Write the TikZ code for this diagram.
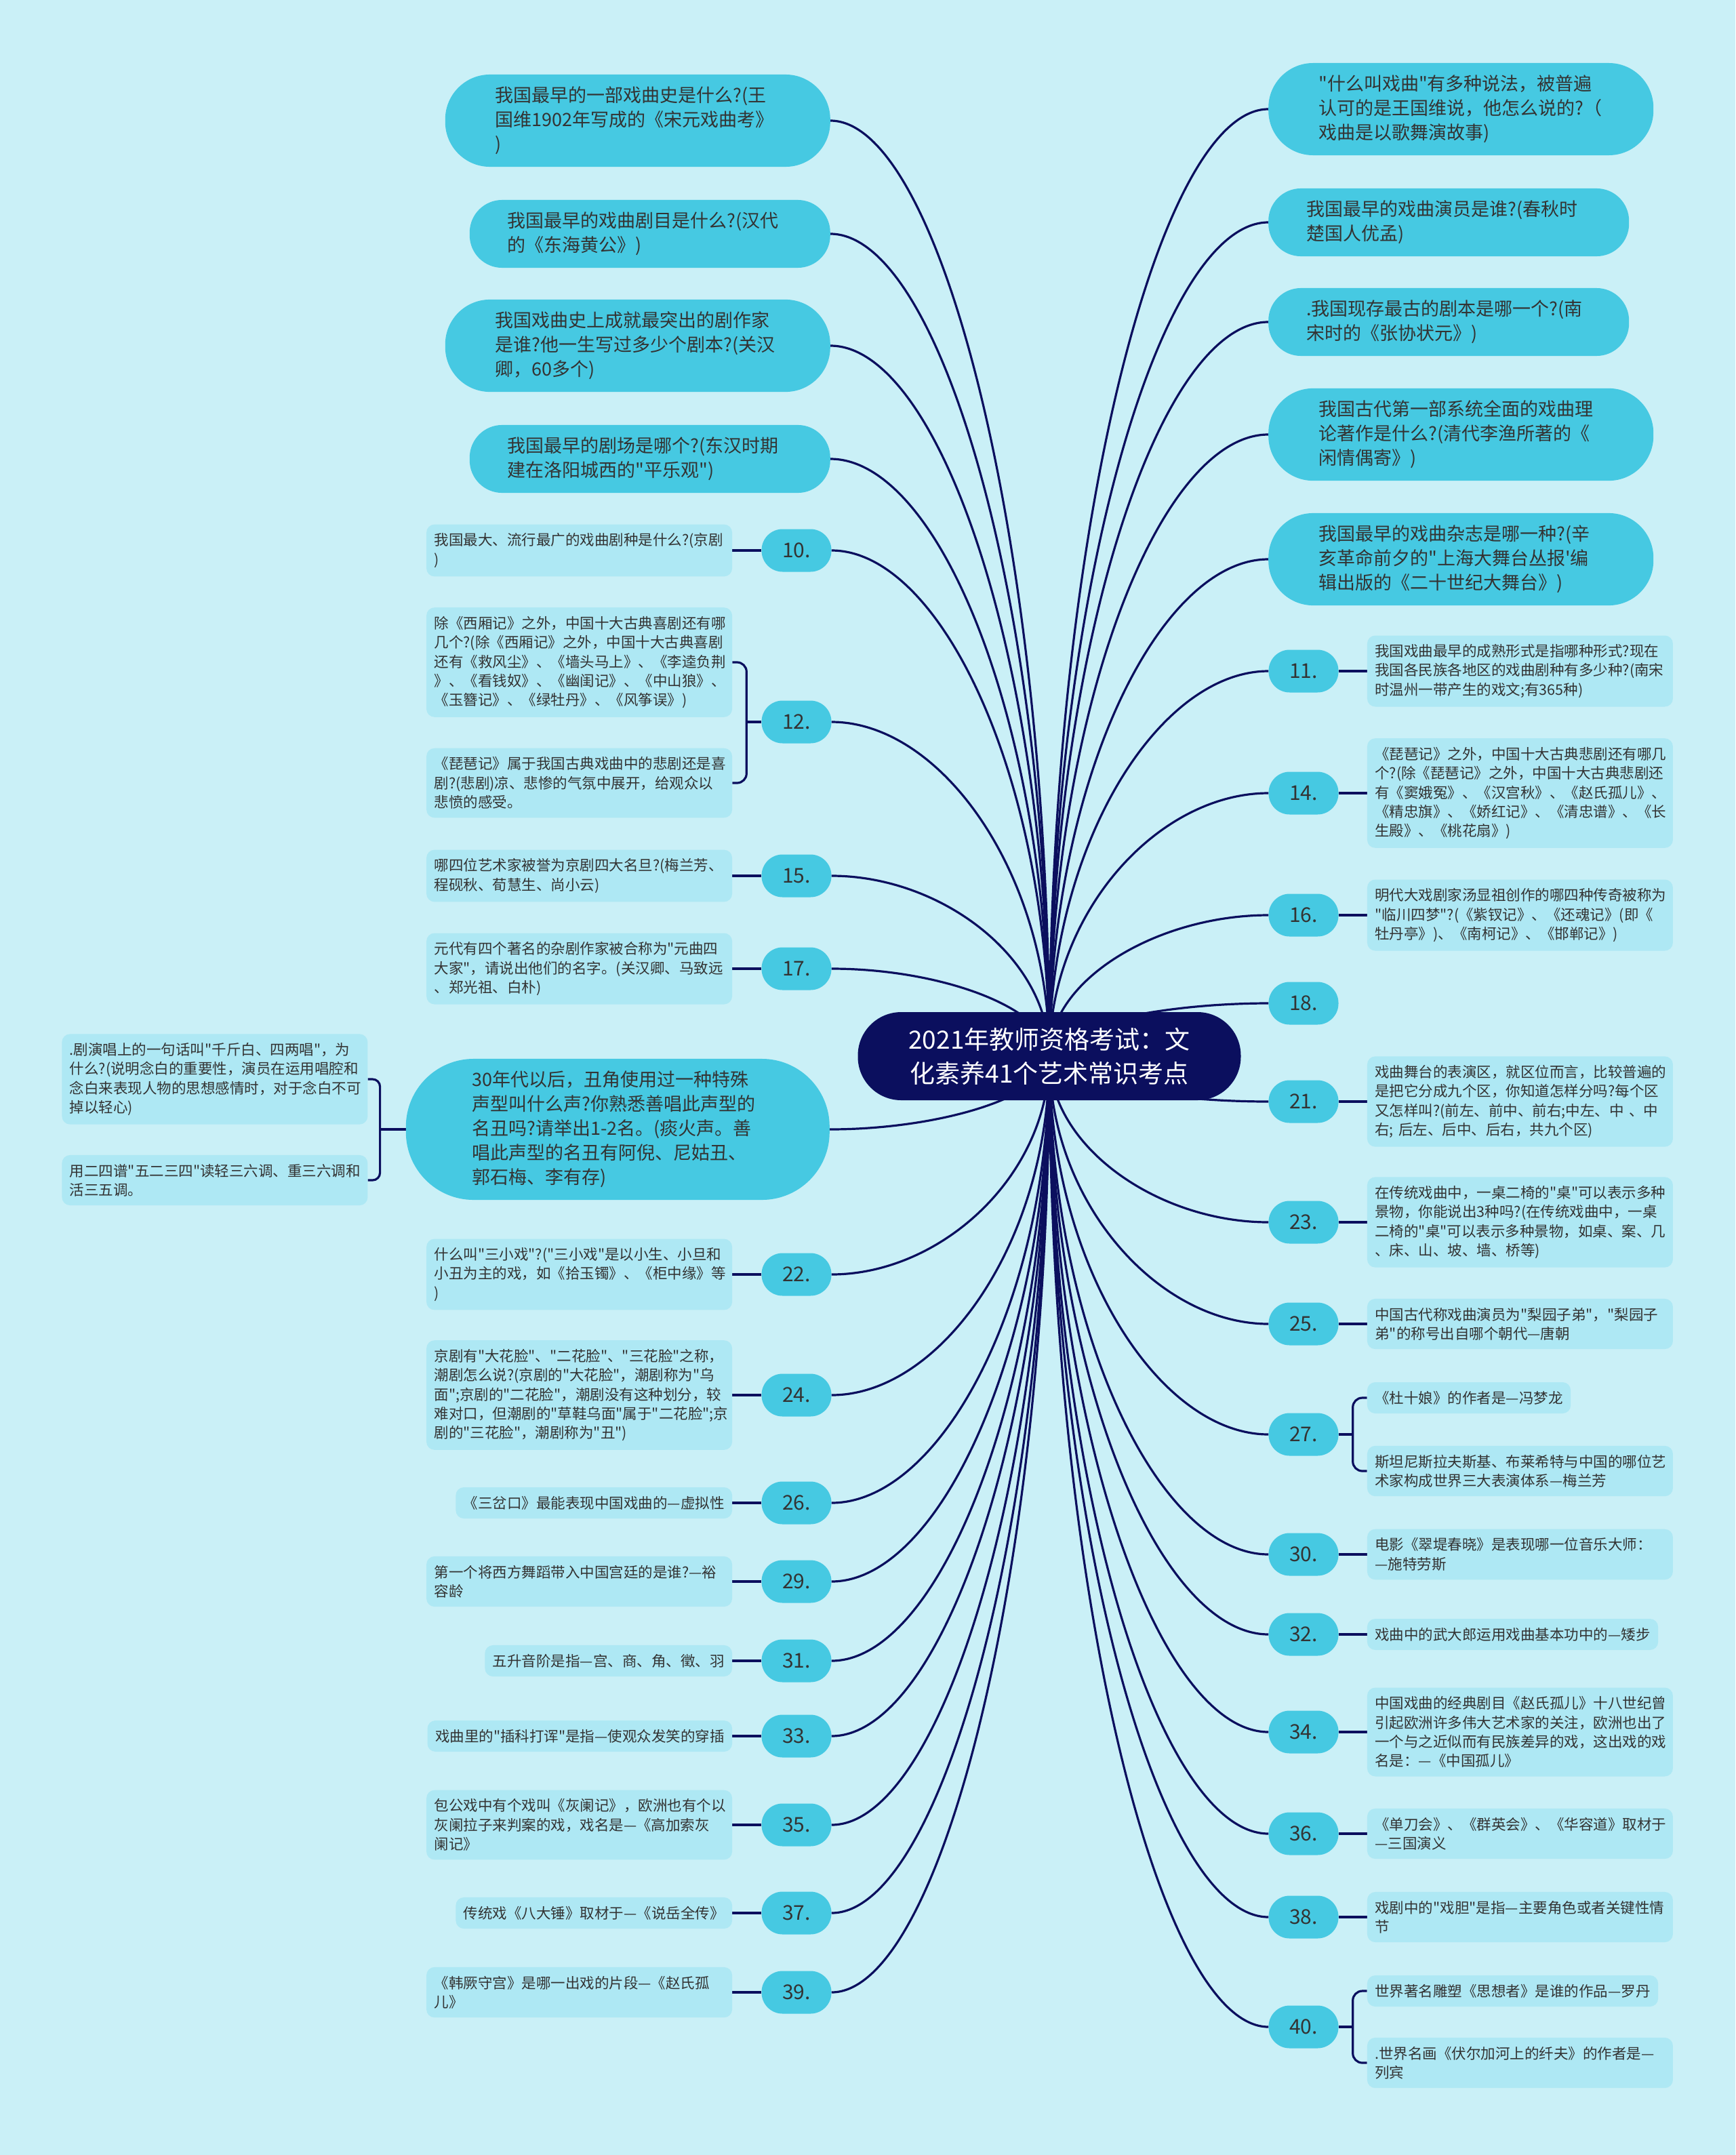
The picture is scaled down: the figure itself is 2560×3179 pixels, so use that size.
\documentclass[tikz,border=0pt]{standalone}
\usepackage{fontspec}
\setmainfont{Noto Sans CJK SC}
\newfontfamily\zhfont{Noto Sans CJK SC}
\XeTeXdashbreakstate=0
\usepackage{xcolor}
\usepackage{tikz}
\usetikzlibrary{positioning,calc}

\definecolor{bgcol}{HTML}{CAF0F7}
\definecolor{navy}{HTML}{0B0F5E}
\definecolor{topiccol}{HTML}{46C9E2}
\definecolor{notecol}{HTML}{AEE8F4}
\definecolor{inkcol}{HTML}{333333}

\pgfdeclarelayer{background}
\pgfsetlayers{background,main}

\begin{document}
\begin{tikzpicture}[x=1pt, y=-1pt,
  root/.style={rectangle, rounded corners=64pt, fill=navy, text=white, minimum width=565pt, minimum height=130pt, align=center, font=\zhfont\fontsize{37}{50}\selectfont},
  topic/.style={rectangle, rounded corners=48pt, fill=topiccol, text=inkcol, text width=420pt, align=left, inner xsep=8pt, inner ysep=18pt, minimum width=532pt, minimum height=100pt, font=\zhfont\fontsize{27}{36}\selectfont},
  tall/.style={rounded corners=66pt, minimum width=568pt},
  num/.style={rectangle, rounded corners=31pt, fill=topiccol, text=inkcol, minimum width=103pt, minimum height=63pt, font=\zhfont\fontsize{30}{30}\selectfont},
  brief/.style={rectangle, rounded corners=12pt, fill=notecol, text=inkcol, inner xsep=11.5pt, inner ysep=13pt, font=\zhfont\fontsize{21.5}{28.3}\selectfont},
  note/.style={brief, text width=428pt, align=left},
  line/.style={draw=navy, line width=3.2pt},
  branch/.style={to path={.. controls ($(\tikztostart)!0.55!(\tikztostart|-\tikztotarget)$) and ($(\tikztotarget)!0.5!(\tikztostart|-\tikztotarget)$) .. (\tikztotarget)}}]

  \useasboundingbox (0,0) rectangle (2560,3179);

  \node [root] (root) at (1548,1558) {2021年教师资格考试：文\\化素养41个艺术常识考点};

  % left topics
  \node [topic, tall, anchor=east] (lt1) at (1225,178) {我国最早的一部戏曲史是什么?(王\\国维1902年写成的《宋元戏曲考》\\)};
  \node [topic, anchor=east] (lt2) at (1225,345) {我国最早的戏曲剧目是什么?(汉代\\的《东海黄公》)};
  \node [topic, tall, anchor=east] (lt3) at (1225,510) {我国戏曲史上成就最突出的剧作家\\是谁?他一生写过多少个剧本?(关汉\\卿，60多个)};
  \node [topic, anchor=east] (lt4) at (1225,677) {我国最早的剧场是哪个?(东汉时期\\建在洛阳城西的"平乐观")};
  \node [topic, anchor=east, text width=430pt, minimum width=625pt, minimum height=207pt, rounded corners=100pt] (lt5) at (1224,1666) {30年代以后，丑角使用过一种特殊\\声型叫什么声?你熟悉善唱此声型的\\名丑吗?请举出1-2名。(痰火声。善\\唱此声型的名丑有阿倪、尼姑丑、\\郭石梅、李有存)};

  % right topics
  \node [topic, tall, anchor=west] (rt1) at (1871,161) {"什么叫戏曲"有多种说法，被普遍\\认可的是王国维说，他怎么说的?（\\戏曲是以歌舞演故事)};
  \node [topic, anchor=west] (rt2) at (1871,328) {我国最早的戏曲演员是谁?(春秋时\\楚国人优孟)};
  \node [topic, anchor=west] (rt3) at (1871,475) {.我国现存最古的剧本是哪一个?(南\\宋时的《张协状元》)};
  \node [topic, tall, anchor=west] (rt4) at (1871,641) {我国古代第一部系统全面的戏曲理\\论著作是什么?(清代李渔所著的《\\闲情偶寄》)};
  \node [topic, tall, anchor=west] (rt5) at (1871,825) {我国最早的戏曲杂志是哪一种?(辛\\亥革命前夕的"上海大舞台丛报'编\\辑出版的《二十世纪大舞台》)};

  % left numbers
  \node [num] (n10) at (1175,812) {10.};
  \node [num] (n12) at (1175,1065) {12.};
  \node [num] (n15) at (1175,1292) {15.};
  \node [num] (n17) at (1175,1429) {17.};
  \node [num] (n22) at (1175,1880) {22.};
  \node [num] (n24) at (1175,2058) {24.};
  \node [num] (n26) at (1175,2217) {26.};
  \node [num] (n29) at (1175,2333) {29.};
  \node [num] (n31) at (1175,2450) {31.};
  \node [num] (n33) at (1175,2561) {33.};
  \node [num] (n35) at (1175,2692) {35.};
  \node [num] (n37) at (1175,2822) {37.};
  \node [num] (n39) at (1175,2939) {39.};

  % right numbers
  \node [num] (n11) at (1923,990) {11.};
  \node [num] (n14) at (1923,1170) {14.};
  \node [num] (n16) at (1923,1350) {16.};
  \node [num] (n18) at (1923,1480) {18.};
  \node [num] (n21) at (1923,1625) {21.};
  \node [num] (n23) at (1923,1803) {23.};
  \node [num] (n25) at (1923,1953) {25.};
  \node [num] (n27) at (1923,2116) {27.};
  \node [num] (n30) at (1923,2293) {30.};
  \node [num] (n32) at (1923,2411) {32.};
  \node [num] (n34) at (1923,2555) {34.};
  \node [num] (n36) at (1923,2705) {36.};
  \node [num] (n38) at (1923,2828) {38.};
  \node [num] (n40) at (1923,2990) {40.};

  % left notes
  \node [note, left=43pt of n10] (c10) {我国最大、流行最广的戏曲剧种是什么?(京剧\\)};
  \node [note, left=43pt of n12, yshift=88pt] (c12a) {除《西厢记》之外，中国十大古典喜剧还有哪\\几个?(除《西厢记》之外，中国十大古典喜剧\\还有《救风尘》、《墙头马上》、《李逵负荆\\》、《看钱奴》、《幽闺记》、《中山狼》、\\《玉簪记》、《绿牡丹》、《风筝误》)};
  \node [note, left=43pt of n12, yshift=-90pt] (c12b) {《琵琶记》属于我国古典戏曲中的悲剧还是喜\\剧?(悲剧)凉、悲惨的气氛中展开，给观众以\\悲愤的感受。};
  \node [note, left=43pt of n15] (c15) {哪四位艺术家被誉为京剧四大名旦?(梅兰芳、\\程砚秋、荀慧生、尚小云)};
  \node [note, left=43pt of n17] (c17) {元代有四个著名的杂剧作家被合称为"元曲四\\大家"，请说出他们的名字。(关汉卿、马致远\\、郑光祖、白朴)};
  \node [note, left=56pt of lt5, yshift=74pt] (c30a) {.剧演唱上的一句话叫"千斤白、四两唱"，为\\什么?(说明念白的重要性，演员在运用唱腔和\\念白来表现人物的思想感情时，对于念白不可\\掉以轻心)};
  \node [note, left=56pt of lt5, yshift=-75pt] (c30b) {用二四谱"五二三四"读轻三六调、重三六调和\\活三五调。};
  \node [note, left=43pt of n22] (c22) {什么叫"三小戏"?("三小戏"是以小生、小旦和\\小丑为主的戏，如《拾玉镯》、《柜中缘》等\\)};
  \node [note, left=43pt of n24] (c24) {京剧有"大花脸"、"二花脸"、"三花脸"之称，\\潮剧怎么说?(京剧的"大花脸"，潮剧称为"乌\\面";京剧的"二花脸"，潮剧没有这种划分，较\\难对口，但潮剧的"草鞋乌面"属于"二花脸";京\\剧的"三花脸"，潮剧称为"丑")};
  \node [brief, left=43pt of n26] (c26) {《三岔口》最能表现中国戏曲的—虚拟性};
  \node [note, left=43pt of n29] (c29) {第一个将西方舞蹈带入中国宫廷的是谁?—裕\\容龄};
  \node [brief, left=43pt of n31] (c31) {五升音阶是指—宫、商、角、徵、羽};
  \node [brief, left=43pt of n33] (c33) {戏曲里的"插科打诨"是指—使观众发笑的穿插};
  \node [note, left=43pt of n35] (c35) {包公戏中有个戏叫《灰阑记》，欧洲也有个以\\灰阑拉子来判案的戏，戏名是—《高加索灰\\阑记》};
  \node [brief, left=43pt of n37] (c37) {传统戏《八大锤》取材于—《说岳全传》};
  \node [note, left=43pt of n39] (c39) {《韩厥守宫》是哪一出戏的片段—《赵氏孤\\儿》};

  % right notes
  \node [note, right=42pt of n11] (c11) {我国戏曲最早的成熟形式是指哪种形式?现在\\我国各民族各地区的戏曲剧种有多少种?(南宋\\时温州一带产生的戏文;有365种)};
  \node [note, right=42pt of n14] (c14) {《琵琶记》之外，中国十大古典悲剧还有哪几\\个?(除《琵琶记》之外，中国十大古典悲剧还\\有《窦娥冤》、《汉宫秋》、《赵氏孤儿》、\\《精忠旗》、《娇红记》、《清忠谱》、《长\\生殿》、《桃花扇》)};
  \node [note, right=42pt of n16] (c16) {明代大戏剧家汤显祖创作的哪四种传奇被称为\\"临川四梦"?(《紫钗记》、《还魂记》(即《\\牡丹亭》)、《南柯记》、《邯郸记》)};
  \node [note, right=42pt of n21] (c21) {戏曲舞台的表演区，就区位而言，比较普遍的\\是把它分成九个区，你知道怎样分吗?每个区\\又怎样叫?(前左、前中、前右;中左、中~、中\\右;~后左、后中、后右，共九个区)};
  \node [note, right=42pt of n23] (c23) {在传统戏曲中，一桌二椅的"桌"可以表示多种\\景物，你能说出3种吗?(在传统戏曲中，一桌\\二椅的"桌"可以表示多种景物，如桌、案、几\\、床、山、坡、墙、桥等)};
  \node [note, right=42pt of n25] (c25) {中国古代称戏曲演员为"梨园子弟"，"梨园子\\弟"的称号出自哪个朝代—唐朝};
  \node [brief, right=42pt of n27, yshift=54pt] (c27a) {《杜十娘》的作者是—冯梦龙};
  \node [note, right=42pt of n27, yshift=-54pt] (c27b) {斯坦尼斯拉夫斯基、布莱希特与中国的哪位艺\\术家构成世界三大表演体系—梅兰芳};
  \node [note, right=42pt of n30] (c30) {电影《翠堤春晓》是表现哪一位音乐大师：\\—施特劳斯};
  \node [brief, right=42pt of n32] (c32) {戏曲中的武大郎运用戏曲基本功中的—矮步};
  \node [note, right=42pt of n34] (c34) {中国戏曲的经典剧目《赵氏孤儿》十八世纪曾\\引起欧洲许多伟大艺术家的关注，欧洲也出了\\一个与之近似而有民族差异的戏，这出戏的戏\\名是：—《中国孤儿》};
  \node [note, right=42pt of n36] (c36) {《单刀会》、《群英会》、《华容道》取材于\\—三国演义};
  \node [note, right=42pt of n38] (c38) {戏剧中的"戏胆"是指—主要角色或者关键性情\\节};
  \node [brief, right=42pt of n40, yshift=53pt] (c40a) {世界著名雕塑《思想者》是谁的作品—罗丹};
  \node [note, right=42pt of n40, yshift=-53pt] (c40b) {.世界名画《伏尔加河上的纤夫》的作者是—\\列宾};

  \begin{pgfonlayer}{background}
  \fill [bgcol] (0,0) rectangle (2560,3179);

  % root to the left
  \path [line] (root.center) to[branch] (lt1.east);
  \path [line] (root.center) to[branch] (lt2.east);
  \path [line] (root.center) to[branch] (lt3.east);
  \path [line] (root.center) to[branch] (lt4.east);
  \path [line] (root.center) to[branch] (n10.east);
  \path [line] (root.center) to[branch] (n12.east);
  \path [line] (root.center) to[branch] (n15.east);
  \path [line] (root.center) to[branch] (n17.east);
  \path [line] (root.center) to[branch] (lt5.east);
  \path [line] (root.center) to[branch] (n22.east);
  \path [line] (root.center) to[branch] (n24.east);
  \path [line] (root.center) to[branch] (n26.east);
  \path [line] (root.center) to[branch] (n29.east);
  \path [line] (root.center) to[branch] (n31.east);
  \path [line] (root.center) to[branch] (n33.east);
  \path [line] (root.center) to[branch] (n35.east);
  \path [line] (root.center) to[branch] (n37.east);
  \path [line] (root.center) to[branch] (n39.east);

  % root to the right
  \path [line] (root.center) to[branch] (rt1.west);
  \path [line] (root.center) to[branch] (rt2.west);
  \path [line] (root.center) to[branch] (rt3.west);
  \path [line] (root.center) to[branch] (rt4.west);
  \path [line] (root.center) to[branch] (rt5.west);
  \path [line] (root.center) to[branch] (n11.west);
  \path [line] (root.center) to[branch] (n14.west);
  \path [line] (root.center) to[branch] (n16.west);
  \path [line] (root.center) to[branch] (n18.west);
  \path [line] (root.center) to[branch] (n21.west);
  \path [line] (root.center) to[branch] (n23.west);
  \path [line] (root.center) to[branch] (n25.west);
  \path [line] (root.center) to[branch] (n27.west);
  \path [line] (root.center) to[branch] (n30.west);
  \path [line] (root.center) to[branch] (n32.west);
  \path [line] (root.center) to[branch] (n34.west);
  \path [line] (root.center) to[branch] (n36.west);
  \path [line] (root.center) to[branch] (n38.west);
  \path [line] (root.center) to[branch] (n40.west);

  % numbers to notes
  \path [line] (n10.west) -- (c10.east);
  \path [line] (n15.west) -- (c15.east);
  \path [line] (n17.west) -- (c17.east);
  \path [line] (n22.west) -- (c22.east);
  \path [line] (n24.west) -- (c24.east);
  \path [line] (n26.west) -- (c26.east);
  \path [line] (n29.west) -- (c29.east);
  \path [line] (n31.west) -- (c31.east);
  \path [line] (n33.west) -- (c33.east);
  \path [line] (n35.west) -- (c35.east);
  \path [line] (n37.west) -- (c37.east);
  \path [line] (n39.west) -- (c39.east);
  \path [line] (n11.east) -- (c11.west);
  \path [line] (n14.east) -- (c14.west);
  \path [line] (n16.east) -- (c16.west);
  \path [line] (n21.east) -- (c21.west);
  \path [line] (n23.east) -- (c23.west);
  \path [line] (n25.east) -- (c25.west);
  \path [line] (n30.east) -- (c30.west);
  \path [line] (n32.east) -- (c32.west);
  \path [line] (n34.east) -- (c34.west);
  \path [line] (n36.east) -- (c36.west);
  \path [line] (n38.east) -- (c38.west);

  % brackets
  \path [line] (n12.west) -- ++(-22,0) coordinate (k12);
  \path [line, rounded corners=14pt] (c12a.east) -| (k12) |- (c12b.east);
  \path [line] (lt5.west) -- ++(-38,0) coordinate (k5);
  \path [line, rounded corners=11pt] (c30a.east) -| (k5) |- (c30b.east);
  \path [line] (n27.east) -- ++(21,0) coordinate (k27);
  \path [line, rounded corners=14pt] (c27a.west) -| (k27) |- (c27b.west);
  \path [line] (n40.east) -- ++(21,0) coordinate (k40);
  \path [line, rounded corners=14pt] (c40a.west) -| (k40) |- (c40b.west);
  \end{pgfonlayer}
\end{tikzpicture}
\end{document}
